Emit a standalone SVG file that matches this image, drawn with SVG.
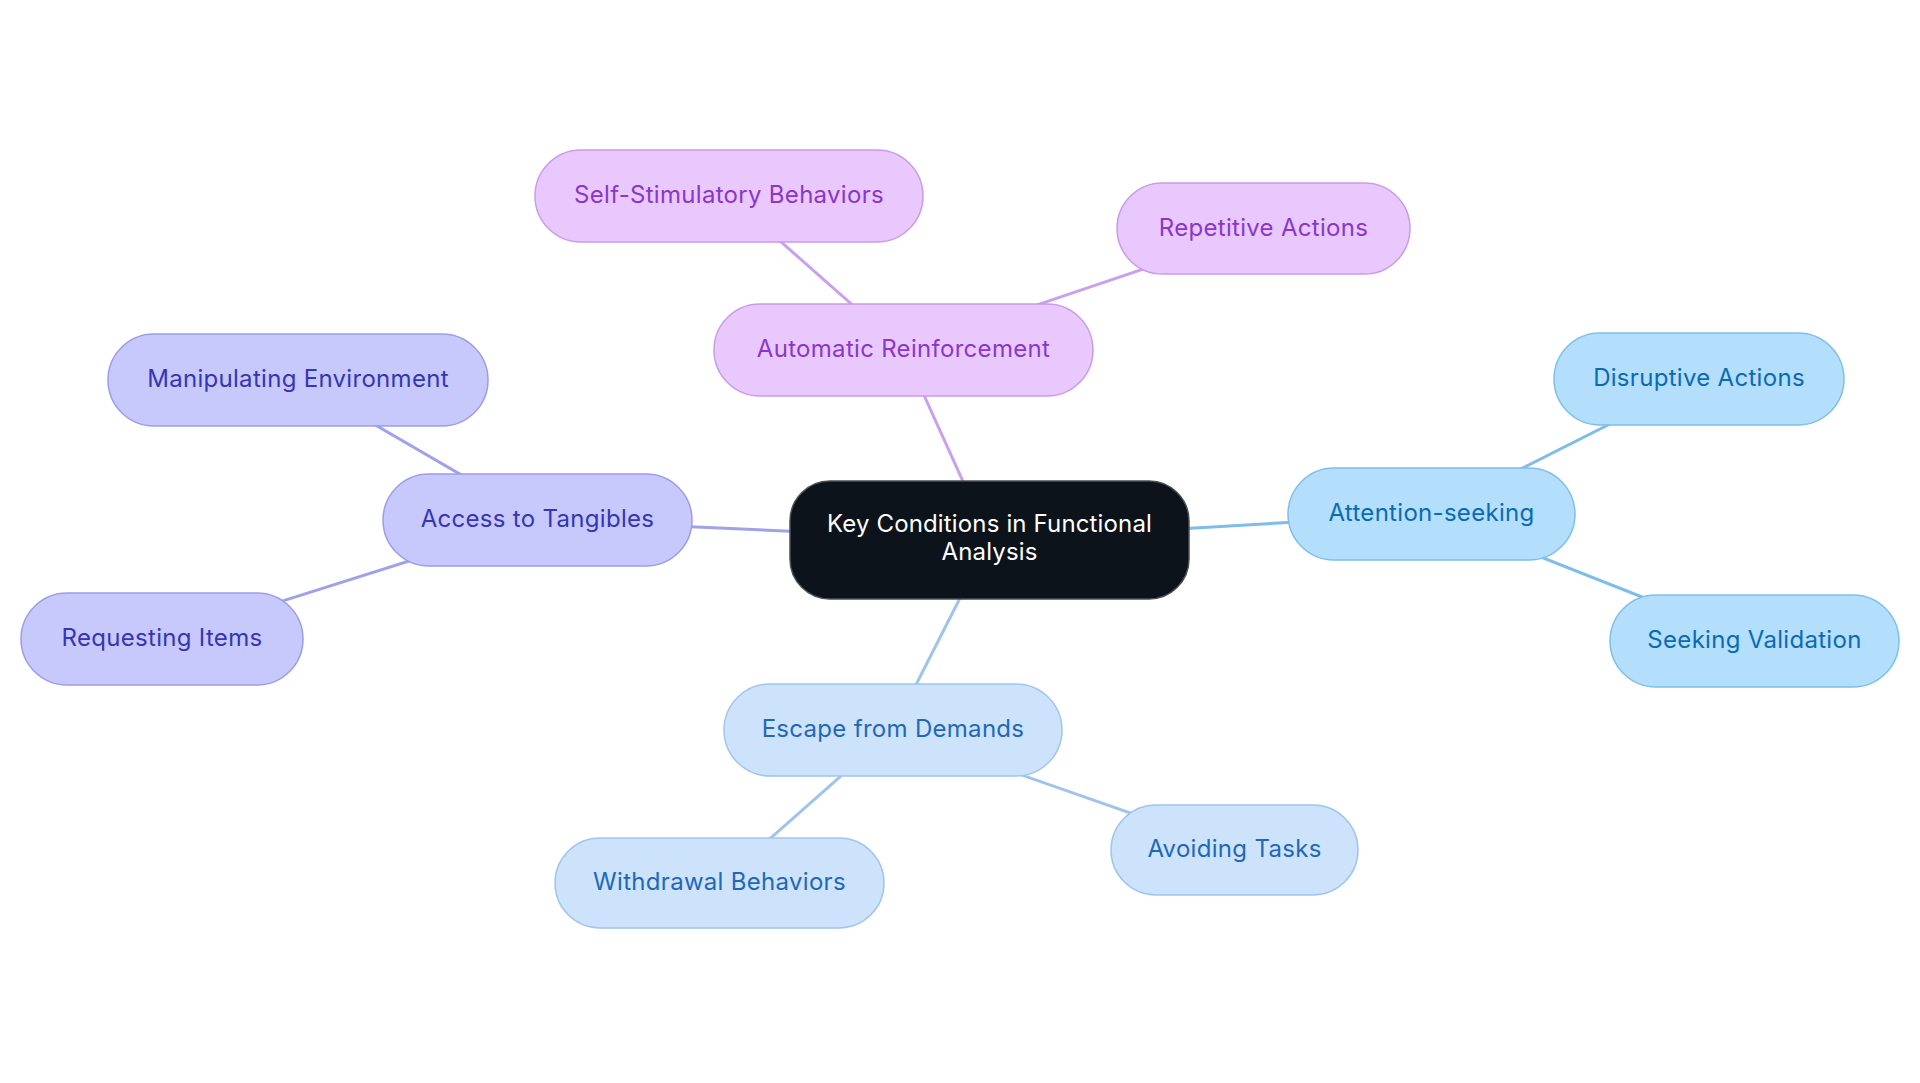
<svg xmlns="http://www.w3.org/2000/svg" width="1920" height="1083" viewBox="0 0 1920 1083">
<style>
text{font-family:Inter,"Noto Sans","Liberation Sans",sans-serif;font-size:24px;text-anchor:middle}
.node text{letter-spacing:0.3px}
.edge{stroke-width:3;fill:none}
.purple rect{fill:#e9c9fd;stroke:#c99be9;stroke-width:1.5}
.purple text{fill:#8b36c9}
.indigo rect{fill:#c7c9fd;stroke:#9b9de6;stroke-width:1.5}
.indigo text{fill:#3535b5}
.sky rect{fill:#b3defc;stroke:#7fbfe9;stroke-width:1.5}
.sky text{fill:#0a6bb3}
.pale rect{fill:#cde3fb;stroke:#a0c5ee;stroke-width:1.5}
.pale text{fill:#1f68b9}
</style>
<rect width="1920" height="1083" fill="#ffffff"/>
<g id="connectors">
<line class="edge" stroke="#c9a0ec" x1="989.5" y1="540" x2="903.5" y2="350"/>
<line class="edge" stroke="#c9a0ec" x1="903.5" y1="350" x2="729" y2="196"/>
<line class="edge" stroke="#c9a0ec" x1="903.5" y1="350" x2="1263.5" y2="228.5"/>
<line class="edge" stroke="#9fa1e9" x1="989.5" y1="540" x2="539" y2="520"/>
<line class="edge" stroke="#9fa1e9" x1="539" y1="520" x2="298" y2="380"/>
<line class="edge" stroke="#9fa1e9" x1="539" y1="520" x2="162" y2="639"/>
<line class="edge" stroke="#7dbde9" x1="989.5" y1="540" x2="1431.5" y2="514"/>
<line class="edge" stroke="#7dbde9" x1="1431.5" y1="514" x2="1699" y2="379"/>
<line class="edge" stroke="#7dbde9" x1="1431.5" y1="514" x2="1753.5" y2="641"/>
<line class="edge" stroke="#9fc4ec" x1="989.5" y1="540" x2="893" y2="730"/>
<line class="edge" stroke="#9fc4ec" x1="893" y1="730" x2="720" y2="883"/>
<line class="edge" stroke="#9fc4ec" x1="893" y1="730" x2="1236" y2="850"/>
</g>
<g id="n-center">
<rect x="790" y="481" width="399" height="118" rx="40" fill="#0c131b" stroke="#4a4f55" stroke-width="1.5"/>
<text x="989.5" y="532" fill="#ffffff" letter-spacing="0.15">Key Conditions in Functional</text>
<text x="989.5" y="560" fill="#ffffff" letter-spacing="0.15">Analysis</text>
</g>
<g id="n-automatic" class="node purple">
<rect x="714" y="304" width="379" height="92" rx="46"/>
<text x="903.5" y="357">Automatic Reinforcement</text>
</g>
<g id="n-selfstim" class="node purple">
<rect x="535" y="150" width="388" height="92" rx="46"/>
<text x="729" y="203">Self-Stimulatory Behaviors</text>
</g>
<g id="n-repetitive" class="node purple">
<rect x="1117" y="183" width="293" height="91" rx="45.5"/>
<text x="1263.5" y="236">Repetitive Actions</text>
</g>
<g id="n-access" class="node indigo">
<rect x="383" y="474" width="309" height="92" rx="46"/>
<text x="537.5" y="527">Access to Tangibles</text>
</g>
<g id="n-manipulating" class="node indigo">
<rect x="108" y="334" width="380" height="92" rx="46"/>
<text x="298" y="387">Manipulating Environment</text>
</g>
<g id="n-requesting" class="node indigo">
<rect x="21" y="593" width="282" height="92" rx="46"/>
<text x="162" y="646">Requesting Items</text>
</g>
<g id="n-attention" class="node sky">
<rect x="1288" y="468" width="287" height="92" rx="46"/>
<text x="1431.5" y="521">Attention-seeking</text>
</g>
<g id="n-disruptive" class="node sky">
<rect x="1554" y="333" width="290" height="92" rx="46"/>
<text x="1699" y="386">Disruptive Actions</text>
</g>
<g id="n-seeking" class="node sky">
<rect x="1610" y="595" width="289" height="92" rx="46"/>
<text x="1754.5" y="648">Seeking Validation</text>
</g>
<g id="n-escape" class="node pale">
<rect x="724" y="684" width="338" height="92" rx="46"/>
<text x="893" y="737">Escape from Demands</text>
</g>
<g id="n-withdrawal" class="node pale">
<rect x="555" y="838" width="329" height="90" rx="45"/>
<text x="719.5" y="890">Withdrawal Behaviors</text>
</g>
<g id="n-avoiding" class="node pale">
<rect x="1111" y="805" width="247" height="90" rx="45"/>
<text x="1234.5" y="857">Avoiding Tasks</text>
</g>
</svg>
